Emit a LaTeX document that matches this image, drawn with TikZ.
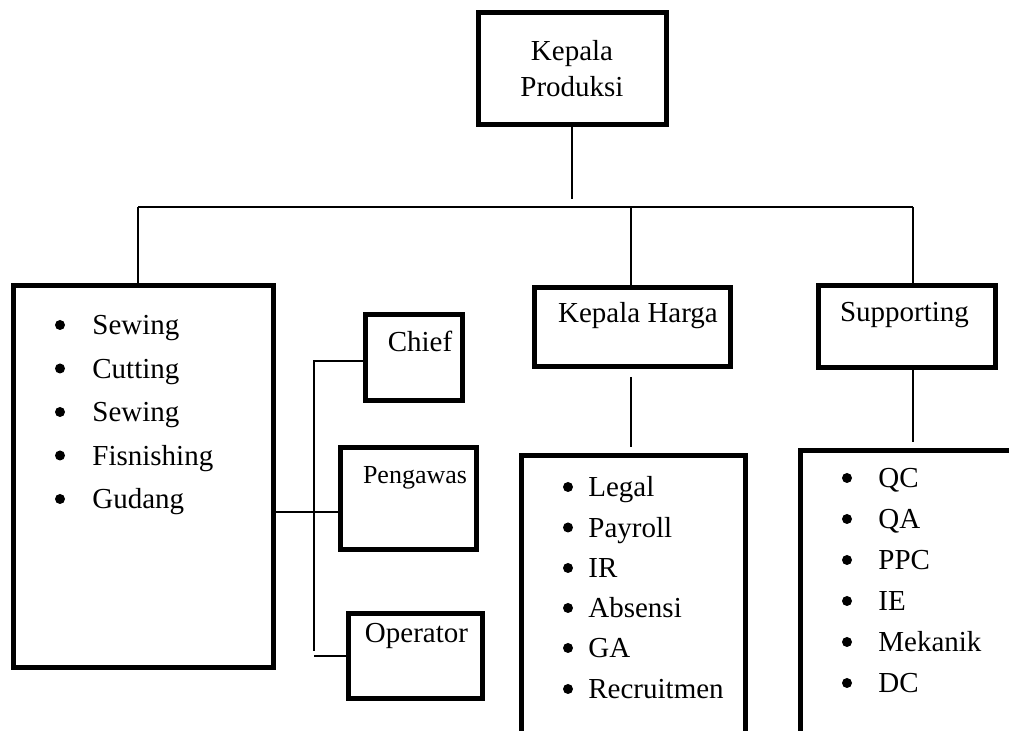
\documentclass[tikz,border=0pt]{standalone}
\usepackage{fontspec}
\setmainfont{Liberation Serif}
\begin{document}
\begin{tikzpicture}[x=0.5pt,y=-0.5pt,
  boxsty/.style={draw, line width=2.5pt, inner sep=0pt, font=\fontsize{14.5}{18}\selectfont},
  linesty/.style={line width=1pt},
  lbl/.style={anchor=base, inner sep=0pt, font=\fontsize{14.5}{18}\selectfont},
  itemtext/.style={anchor=base west, inner sep=0pt, font=\fontsize{14.5}{18}\selectfont}]

\useasboundingbox (0,0) rectangle (1009,731);
\clip (0,0) rectangle (1009,731);

% boxes
\node[boxsty, align=center, minimum width=94pt, minimum height=56pt] (prod) at (572,68.5) {Kepala\\Produksi};
\node[boxsty, minimum width=130pt, minimum height=191pt] (jobs) at (143.5,476.5) {};
\node[boxsty, minimum width=48.5pt, minimum height=43pt] (chief) at (414,357.5) {};
\node[boxsty, minimum width=68pt, minimum height=51pt] (peng) at (408.5,498.5) {};
\node[boxsty, minimum width=67pt, minimum height=42.5pt] (oper) at (415.5,656) {};
\node[boxsty, minimum width=98pt, minimum height=39.5pt] (harga) at (632.5,327) {};
\node[boxsty, minimum width=88.5pt, minimum height=41pt] (supp) at (907,326.5) {};
\node[boxsty, minimum width=112pt, minimum height=162.25pt] (legal) at (633.5,617.75) {};
\node[boxsty, minimum width=129.75pt, minimum height=164.75pt] (qc) at (930.25,615.25) {};

% box titles
\node[lbl] (chieftxt) at (420,352) {Chief};
\node[lbl, font=\fontsize{13}{16}\selectfont] (pengtxt) at (415,484) {Pengawas};
\node[lbl] (opertxt) at (416.5,643) {Operator};
\node[lbl] (hargatxt) at (638,323) {Kepala Harga};
\node[lbl] (supptxt) at (904.5,322) {Supporting};

% lists
\foreach \y/\t [count=\i] in {335/Sewing, 378.5/Cutting, 422/Sewing, 465.5/Fisnishing, 509/Gudang} {
  \fill (60,\y-10) circle (2.5pt);
  \node[itemtext] (job\i) at (92,\y) {\t};
}
\foreach \y/\t [count=\i] in {497/Legal, 537.5/Payroll, 578/IR, 618/Absensi, 658/GA, 699/Recruitmen} {
  \fill (568,\y-10) circle (2.5pt);
  \node[itemtext] (adm\i) at (588,\y) {\t};
}
\foreach \y/\t [count=\i] in {488/QC, 529/QA, 570/PPC, 611/IE, 652/Mekanik, 693/DC} {
  \fill (847,\y-10) circle (2.5pt);
  \node[itemtext] (sup\i) at (878,\y) {\t};
}

% connectors
\coordinate (pdrop) at (572,199);
\coordinate (busL) at (138,207);
\coordinate (busM) at (631,207);
\coordinate (busR) at (913,207);
\draw[linesty] (prod.south) -- (pdrop);
\draw[linesty] (busL) -- (busR);
\draw[linesty] (busL) -- (busL |- jobs.north);
\draw[linesty] (busM) -- (busM |- harga.north);
\draw[linesty] (busR) -- (busR |- supp.north);
\draw[linesty] ([yshift=-4pt]harga.south -| busM) -- ([yshift=2.75pt]legal.north -| busM);
\draw[linesty] (supp.south -| busR) -- ([yshift=2.75pt]qc.north -| busR);

\coordinate (pj) at (340.5,512);
\coordinate (brT) at (314,361);
\coordinate (brB) at (314,651);
\coordinate (oj) at (314,656);
\draw[linesty] (jobs.east |- pj) -- (pj);
\draw[linesty] (brB) -- (brT) -- (brT -| chief.west);
\draw[linesty] (oj) -- (oj -| oper.west);

\end{tikzpicture}
\end{document}
